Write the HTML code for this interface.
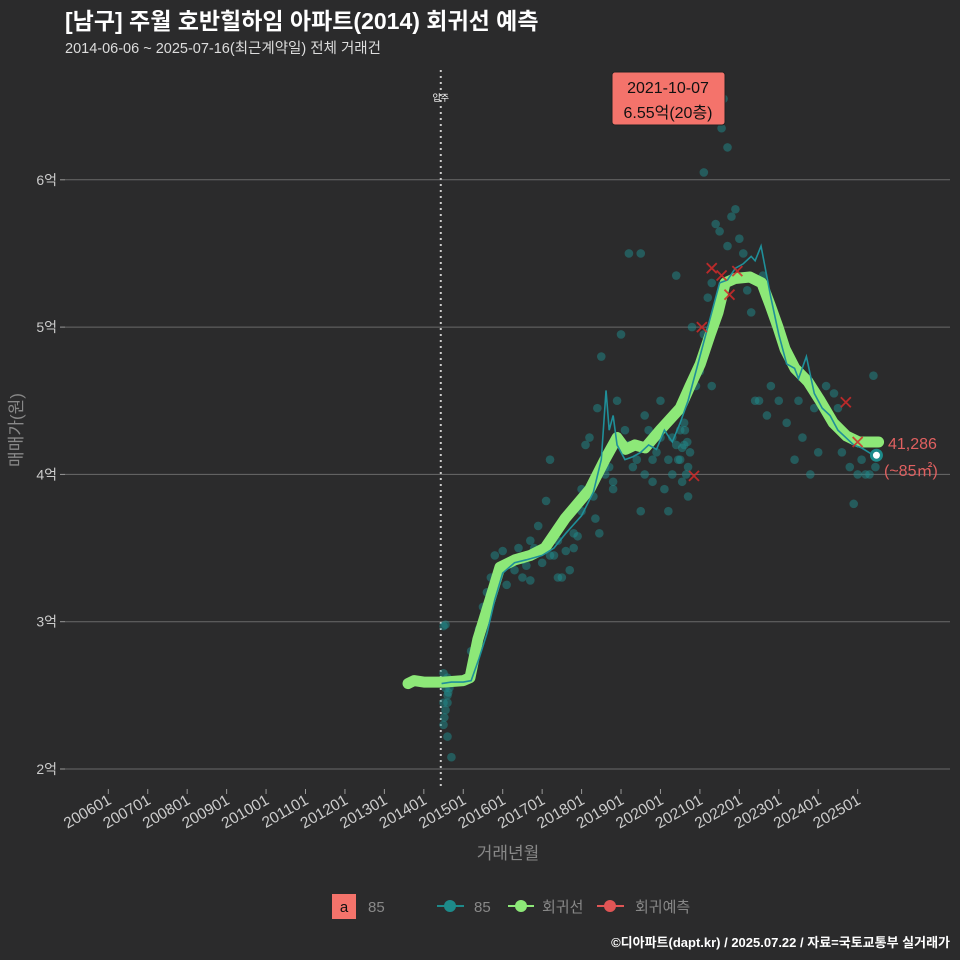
<!DOCTYPE html>
<html><head><meta charset="utf-8"><style>
body{margin:0;background:#2b2b2c;}
svg{display:block;font-family:"Liberation Sans","Noto Sans CJK KR",sans-serif;}
</style></head><body>
<svg id="c" width="960" height="960" viewBox="0 0 960 960">
<rect width="960" height="960" fill="#2b2b2c"/>
<text x="65" y="29" fill="#fff" font-size="23" font-weight="bold">[남구] 주월 호반힐하임 아파트(2014) 회귀선 예측</text>
<text x="65" y="53" fill="#ddd" font-size="14.5">2014-06-06 ~ 2025-07-16(최근계약일) 전체 거래건</text>
<g id="grid"></g>
<g id="xaxis"></g>
<g id="marks"></g>
<text x="508" y="859" fill="#888" font-size="17" text-anchor="middle">거래년월</text>
<text transform="translate(22,430) rotate(-90)" fill="#888" font-size="17" text-anchor="middle">매매가(원)</text>
<g>
<rect x="332" y="894" width="24" height="25" fill="#f4736b"/>
<text x="344" y="912" font-size="15" text-anchor="middle" fill="#111">a</text>
<text x="368" y="912" font-size="15" fill="#888">85</text>
<line x1="437" y1="906" x2="464" y2="906" stroke="#1d8a8a" stroke-width="2"/>
<circle cx="450" cy="906" r="6" fill="#1d8a8a"/>
<text x="474" y="912" font-size="15" fill="#888">85</text>
<line x1="508" y1="906" x2="534" y2="906" stroke="#8de878" stroke-width="2"/>
<circle cx="521" cy="906" r="6" fill="#8de878"/>
<text x="542" y="912" font-size="15" fill="#888">회귀선</text>
<line x1="597" y1="906" x2="624" y2="906" stroke="#e05555" stroke-width="2"/>
<circle cx="610" cy="906" r="6" fill="#e05555"/>
<text x="635" y="912" font-size="15" fill="#888">회귀예측</text>
</g>
<text x="950" y="947" fill="#fff" font-size="13" font-weight="bold" text-anchor="end">©디아파트(dapt.kr) / 2025.07.22 / 자료=국토교통부 실거래가</text>
</svg>
<script>
const yTicks=[2,3,4,5,6];
const yTickLabels=["2억","3억","4억","5억","6억"];
const xTickYears=[2006,2007,2008,2009,2010,2011,2012,2013,2014,2015,2016,2017,2018,2019,2020,2021,2022,2023,2024,2025];
const xTickLabels=["200601","200701","200801","200901","201001","201101","201201","201301","201401","201501","201601","201701","201801","201901","202001","202101","202201","202301","202401","202501"];
const regYears=[2013.6,2013.75,2014.0,2014.5,2015.0,2015.17,2015.37,2015.68,2015.93,2016.31,2016.7,2017.07,2017.58,2018.21,2018.59,2018.9,2019.12,2019.35,2019.61,2019.99,2020.5,2020.75,2021.01,2021.26,2021.46,2021.64,2021.89,2022.27,2022.57,2022.78,2022.98,2023.16,2023.41,2023.74,2024.05,2024.38,2024.72,2025.03,2025.53];
const regValues=[2.58,2.6,2.59,2.59,2.6,2.62,2.88,3.15,3.37,3.42,3.45,3.5,3.7,3.9,4.1,4.25,4.17,4.2,4.18,4.3,4.45,4.6,4.75,4.95,5.1,5.3,5.33,5.34,5.3,5.15,5.0,4.85,4.72,4.63,4.5,4.35,4.26,4.22,4.22];
const monYears=[2014.45,2014.7,2015.0,2015.2,2015.4,2015.6,2015.8,2016.0,2016.3,2016.6,2017.0,2017.3,2017.6,2018.0,2018.3,2018.5,2018.62,2018.7,2018.8,2018.9,2019.1,2019.3,2019.5,2019.7,2019.9,2020.1,2020.3,2020.5,2020.7,2020.9,2021.1,2021.3,2021.5,2021.7,2021.9,2022.1,2022.3,2022.4,2022.55,2022.8,2023.0,2023.2,2023.4,2023.5,2023.7,2023.9,2024.1,2024.3,2024.5,2024.7,2024.9,2025.1,2025.4];
const monValues=[2.58,2.59,2.59,2.6,2.75,2.92,3.15,3.33,3.4,3.42,3.45,3.5,3.6,3.72,3.88,4.1,4.57,4.3,4.4,4.2,4.1,4.12,4.15,4.2,4.17,4.3,4.22,4.35,4.5,4.7,4.9,5.1,5.3,5.32,5.4,5.43,5.48,5.45,5.55,5.2,4.95,4.75,4.72,4.65,4.8,4.55,4.45,4.4,4.3,4.25,4.2,4.18,4.13];
const ptYears=[2014.5,2014.5,2014.55,2014.6,2014.5,2014.55,2014.6,2014.65,2014.5,2014.6,2014.55,2014.5,2014.6,2014.7,2015.2,2015.4,2015.5,2015.6,2015.7,2015.8,2015.9,2016.0,2016.1,2016.2,2016.3,2016.4,2016.5,2016.6,2016.7,2016.8,2016.9,2017.0,2017.1,2017.2,2017.3,2017.4,2017.5,2017.6,2017.7,2017.8,2017.9,2018.0,2018.1,2018.2,2018.3,2018.35,2018.45,2018.5,2018.6,2018.7,2018.8,2018.9,2019.0,2019.1,2019.2,2019.3,2019.4,2019.5,2019.6,2019.7,2019.8,2019.9,2020.0,2020.1,2020.2,2020.3,2020.4,2020.5,2020.5,2020.55,2020.6,2020.6,2020.65,2020.7,2020.75,2020.8,2020.9,2021.0,2021.1,2021.2,2021.3,2021.4,2021.5,2021.55,2021.6,2021.7,2021.8,2021.9,2022.0,2022.1,2022.2,2022.3,2022.4,2022.5,2022.6,2022.7,2022.8,2023.0,2023.2,2023.4,2023.6,2023.8,2024.0,2024.2,2024.4,2024.5,2024.6,2024.8,2024.9,2025.0,2025.1,2025.2,2025.4,2018.4,2019.2,2019.5,2018.8,2020.2,2020.4,2021.1,2021.3,2016.5,2016.7,2017.2,2017.4,2017.8,2018.0,2018.3,2018.6,2019.6,2019.8,2020.0,2020.3,2020.45,2020.55,2020.62,2020.68,2020.7,2021.5,2021.7,2023.5,2023.9,2024.6,2025.3,2025.45,2014.58,2014.62,2014.52];
const ptValues=[2.65,2.6,2.55,2.5,2.45,2.4,2.62,2.55,2.3,2.22,2.98,2.97,2.45,2.08,2.8,2.95,3.1,3.2,3.3,3.45,3.35,3.48,3.25,3.4,3.35,3.5,3.42,3.38,3.55,3.5,3.65,3.4,3.82,4.1,3.45,3.3,3.3,3.48,3.35,3.5,3.58,3.9,4.2,4.25,3.85,3.7,3.6,4.8,4.0,4.05,3.9,4.5,4.95,4.3,4.2,4.05,4.1,3.75,4.4,4.3,3.95,4.15,4.5,3.9,4.1,4.0,4.2,4.3,4.1,3.95,4.2,4.35,4.0,3.85,4.15,5.0,4.6,4.7,6.05,5.2,5.3,5.7,5.65,6.35,6.55,6.22,5.75,5.8,5.6,5.5,5.25,5.1,4.5,4.5,5.35,4.4,4.6,4.5,4.35,4.1,4.25,4.0,4.15,4.6,4.55,4.45,4.3,4.05,3.8,4.0,4.1,4.0,4.67,4.45,5.5,5.5,3.95,3.75,5.35,4.95,4.6,3.3,3.28,3.45,3.55,3.6,3.75,3.95,4.05,4.0,4.1,4.25,4.25,4.1,4.18,4.3,4.22,4.05,5.15,5.55,4.5,4.45,4.15,4.0,4.05,2.58,2.52,2.35];
const predYears=[2020.85,2021.05,2021.3,2021.55,2021.75,2021.95,2024.7,2025.0];
const predValues=[3.99,5.0,5.4,5.35,5.22,5.38,4.49,4.22];
const x=y=>108.3+(y-2006)*39.44;
const yv=v=>769-(v-2)*147.3;
const NS="http://www.w3.org/2000/svg";
function mk(parent,tag,attrs){const e=document.createElementNS(NS,tag);for(const k in attrs)e.setAttribute(k,attrs[k]);parent.appendChild(e);return e;}
const grid=document.getElementById('grid'),xa=document.getElementById('xaxis'),m=document.getElementById('marks');
yTicks.forEach((t,i)=>{
 const l=mk(grid,'line',{x1:65,x2:950,y1:yv(t),y2:yv(t),stroke:'#6a6a6a','stroke-width':1});
 
 
 const tk=mk(grid,'line',{x1:60,x2:65,y1:yv(t),y2:yv(t),stroke:'#999'});
 
 
 const tx=mk(grid,'text',{x:57,y:yv(t)+5,fill:'#ccc','font-size':14,'text-anchor':'end'});
 tx.textContent=yTickLabels[i];
 
 
});
xTickYears.forEach((t,i)=>{
 const tk=mk(xa,'line',{x1:x(t),x2:x(t),y1:789,y2:794,stroke:'#999'});
 
 
 const tx=mk(xa,'text',{transform:`translate(${x(t)+4},803) rotate(-30)`,fill:'#ccc','font-size':15.5,'text-anchor':'end'});
 tx.textContent=xTickLabels[i];
 
 
});
const mv=mk(m,'line',{x1:x(2014.43),x2:x(2014.43),y1:70,y2:790,stroke:'#ccc','stroke-width':2,'stroke-dasharray':'2,4'});


const mvt=mk(m,'text',{x:x(2014.43),y:101,fill:'#fff','font-size':9,'text-anchor':'middle'});
mvt.textContent='입주';


ptYears.forEach((t,i)=>{
 const c=mk(m,'circle',{cx:x(t),cy:yv(ptValues[i]),r:4.3,fill:'#1f8c8c','fill-opacity':0.5});
 
 
});
const reg=mk(m,'path',{d:regYears.map((t,i)=>(i?'L':'M')+x(t)+','+yv(regValues[i])).join(''),fill:'none',stroke:'#8de878','stroke-width':11,'stroke-linejoin':'round','stroke-linecap':'round'});


const mon=mk(m,'path',{d:monYears.map((t,i)=>(i?'L':'M')+x(t)+','+yv(monValues[i])).join(''),fill:'none',stroke:'#1f8f99','stroke-width':1.6});


predYears.forEach((t,i)=>{
 const cx=x(t),cy=yv(predValues[i]);
 const p=mk(m,'path',{d:`M${cx-5},${cy-5}L${cx+5},${cy+5}M${cx+5},${cy-5}L${cx-5},${cy+5}`,stroke:'#d42a2a','stroke-width':1.8,'stroke-opacity':0.85});
 
 
});
const lastY=monYears[monYears.length-1],lastV=monValues[monValues.length-1];
const lp=mk(m,'circle',{cx:x(lastY)+3,cy:yv(lastV),r:5,fill:'#fff',stroke:'#1d8a8a','stroke-width':3});


const l1=mk(m,'text',{x:888,y:449,fill:'#e06060','font-size':16});
l1.textContent='41,286';


const l2=mk(m,'text',{x:884,y:476,fill:'#e06060','font-size':16});
l2.textContent='(~85㎡)';


const bx=mk(m,'rect',{x:612,y:72,width:113,height:53,rx:3,fill:'#f4736b',stroke:'#222','stroke-width':1});


const a1=mk(m,'text',{x:668,y:93,fill:'#111','font-size':16,'text-anchor':'middle'});
a1.textContent='2021-10-07';


const a2=mk(m,'text',{x:668,y:118,fill:'#111','font-size':16,'text-anchor':'middle'});
a2.textContent='6.55억(20층)';


</script>
</body></html>
